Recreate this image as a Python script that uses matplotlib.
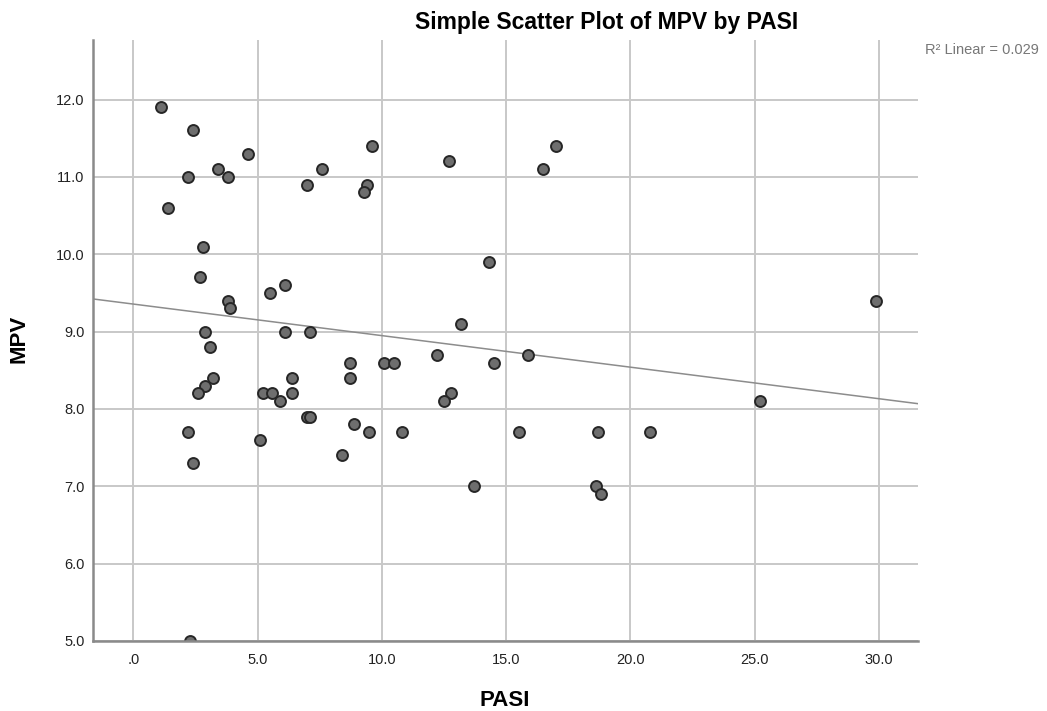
import numpy as np
import matplotlib
matplotlib.use("Agg")
import matplotlib.pyplot as plt

plt.rcParams['font.family'] = ['Liberation Sans', 'DejaVu Sans']

pasi = [1.1, 2.4, 4.6, 3.4, 2.2, 3.8, 1.4, 2.8, 9.6, 7.6, 7.0, 9.4, 9.3,
        2.7, 6.1, 5.5, 3.8, 3.9, 2.9, 6.1, 7.1, 3.1, 8.7, 10.1, 3.2, 2.9,
        2.6, 6.4, 8.7, 5.2, 5.6, 6.4, 5.9, 7.0, 7.1, 8.9, 9.5, 2.2, 5.1,
        8.4, 2.4, 2.3, 12.7, 17.0, 16.5, 14.3, 13.2, 12.2, 10.5, 14.5, 15.9,
        12.8, 12.5, 10.8, 15.5, 18.7, 20.8, 13.7, 18.6, 18.8, 25.2, 29.9]
mpv = [11.9, 11.6, 11.3, 11.1, 11.0, 11.0, 10.6, 10.1, 11.4, 11.1, 10.9, 10.9, 10.8,
       9.7, 9.6, 9.5, 9.4, 9.3, 9.0, 9.0, 9.0, 8.8, 8.6, 8.6, 8.4, 8.3,
       8.2, 8.4, 8.4, 8.2, 8.2, 8.2, 8.1, 7.9, 7.9, 7.8, 7.7, 7.7, 7.6,
       7.4, 7.3, 5.0, 11.2, 11.4, 11.1, 9.9, 9.1, 8.7, 8.6, 8.6, 8.7,
       8.2, 8.1, 7.7, 7.7, 7.7, 7.7, 7.0, 7.0, 6.9, 8.1, 9.4]

x_ticks = [0, 5, 10, 15, 20, 25, 30]
x_labels = ['.0', '5.0', '10.0', '15.0', '20.0', '25.0', '30.0']
y_ticks = [5, 6, 7, 8, 9, 10, 11, 12]
y_labels = ['5.0', '6.0', '7.0', '8.0', '9.0', '10.0', '11.0', '12.0']
r2_text = 'R² Linear = 0.029'

fig = plt.figure(figsize=(10.47, 7.11), dpi=100)
ax = fig.add_axes([93/1047, 1-641/711, (918-93)/1047, (641-40)/711])

xlim = (-1.62, 31.57)
ylim = (5.0, 12.77)

ax.set_xlim(*xlim)
ax.set_ylim(*ylim)

ax.set_xticks(x_ticks)
ax.set_xticklabels(x_labels)
ax.set_yticks(y_ticks)
ax.set_yticklabels(y_labels)

ax.grid(True, color='#c8c8c8', linewidth=1.4, zorder=0)
ax.set_axisbelow(True)
for s in ['top', 'right']:
    ax.spines[s].set_visible(False)
for s in ['left', 'bottom']:
    ax.spines[s].set_color('#8a8a8a')
    ax.spines[s].set_linewidth(1.8)
    ax.spines[s].set_zorder(4)
ax.tick_params(length=0, labelsize=10.5, colors='#222222')
ax.tick_params(axis='x', pad=9)
ax.tick_params(axis='y', pad=6)

# regression line
coef = np.polyfit(pasi, mpv, 1)
xs = np.array(xlim)
ax.plot(xs, np.polyval(coef, xs), color='#8c8c8c', linewidth=1.1, zorder=2)

ax.scatter(pasi, mpv, s=62, facecolor='#6e6e6e', edgecolor='#262626',
           linewidth=1.4, zorder=3, clip_on=True)

fig.text(505/1047, 1-701/711, 'PASI', ha='center', va='center',
         fontsize=16, fontweight='bold')
fig.text(19/1047, 1-339/711, 'MPV', ha='center', va='center',
         rotation=90, fontsize=16, fontweight='bold')
fig.text(607/1047, 1-22/711, 'Simple Scatter Plot of MPV by PASI',
         ha='center', va='center', fontsize=16.5, fontweight='bold')
fig.text(925/1047, 1-50/711, r2_text, ha='left', va='center',
         fontsize=10.5, color='#777777')

fig.savefig('out.png', dpi=100)
